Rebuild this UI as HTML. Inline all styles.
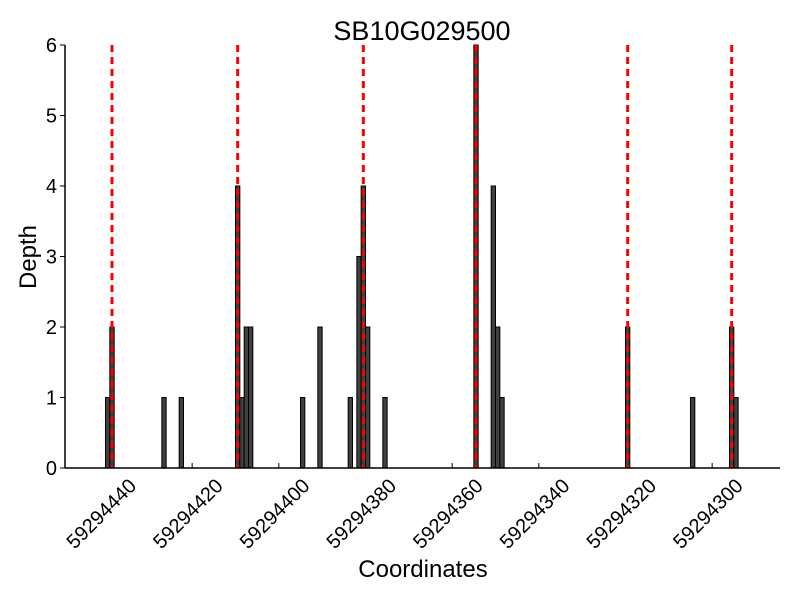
<!DOCTYPE html>
<html><head><meta charset="utf-8"><style>
body{margin:0;background:#fff}
svg{display:block;font-family:"Liberation Sans",sans-serif}
</style></head><body>
<svg id="chart" width="800" height="600" viewBox="0 0 800 600">
<text x="422" y="40" font-size="27" text-anchor="middle">SB10G029500</text>
<text transform="translate(36,257) rotate(-90)" font-size="24" text-anchor="middle">Depth</text>
<text x="423" y="577" font-size="24" text-anchor="middle">Coordinates</text>
<g id="bars"></g>
<g id="vlines"></g>
<g id="axes"></g>
</svg>
<script>
const positions=[59294439,59294438,59294426,59294422,59294409,59294408,59294407,59294406,59294394,59294390,59294383,59294381,59294380,59294379,59294375,59294354,59294350,59294349,59294348,59294319,59294304,59294295,59294294];
const depths=[1,2,1,1,4,1,2,2,1,2,1,3,4,2,1,6,4,2,1,2,1,2,1];
const markers=[59294438,59294409,59294380,59294354,59294319,59294295];
const xTicks=[59294440,59294420,59294400,59294380,59294360,59294340,59294320,59294300];
const yTicks=[0,1,2,3,4,5,6];

const NS="http://www.w3.org/2000/svg";
const L=65,R=780,T=45,B=468;
function xs(v){return 105.5+(59294440-v)*4.3333;}
function ys(v){return B-(v/6)*(B-T);}
function mk(tag,attrs,parent){const e=document.createElementNS(NS,tag);for(const k in attrs)e.setAttribute(k,attrs[k]);parent.appendChild(e);return e;}
const bars=document.getElementById('bars'),vl=document.getElementById('vlines'),ax=document.getElementById('axes');
positions.forEach((p,i)=>{
  const x1=xs(p+1),x2=xs(p);
  const r=mk('rect',{x:x1,y:ys(depths[i]),width:x2-x1,height:B-ys(depths[i]),fill:'#404040',stroke:'#000','stroke-width':1},bars);
  
  
});
markers.forEach(m=>{
  const x=xs(m+0.5);
  const l=mk('line',{x1:x,x2:x,y1:T,y2:B,stroke:'#ff0000','stroke-width':3,'stroke-dasharray':'7,5'},vl);
  
  
});
const ls=mk('line',{x1:L,x2:L,y1:T,y2:B,stroke:'#000','stroke-width':1.5},ax);


const bs=mk('line',{x1:L,x2:R,y1:B,y2:B,stroke:'#000','stroke-width':1.5},ax);


yTicks.forEach(t=>{
  const y=ys(t);
  mk('line',{x1:L-5,x2:L,y1:y,y2:y,stroke:'#000','stroke-width':1},ax);
  const tx=mk('text',{x:L-8,y:y+7,'font-size':20,'text-anchor':'end'},ax);
  tx.textContent=t;
  
  
});
xTicks.forEach(t=>{
  const x=xs(t);
  mk('line',{x1:x,x2:x,y1:B,y2:B-5,stroke:'#000','stroke-width':1},ax);
  const tx=mk('text',{transform:`translate(${x+32},${487}) rotate(-45)`,'font-size':20,'text-anchor':'end'},ax);
  tx.textContent=t;
  
  
});
</script>
</body></html>
